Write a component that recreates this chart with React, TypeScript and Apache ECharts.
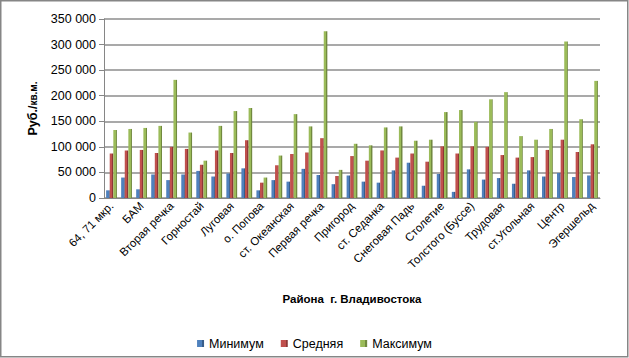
import React, { useEffect, useRef } from "react";
import * as echarts from "echarts";

const categories = [
  "64, 71 мкр.", "Баляева", "БАМ", "Борисенко", "Вторая речка", "Гайдамак",
  "Горностай", "Заря", "Луговая", "Некрасовская", "о. Попова", "о. Русский",
  "ст. Океанская", "Патрокл", "Первая речка", "Постышева", "Пригород", "Садгород",
  "ст. Седанка", "Семеновская", "Снеговая Падь", "Спутник", "Столетие", "Тихая",
  "Толстого (Буссе)", "Третья Рабочая", "Трудовая", "Тухачевского", "ст.Угольная", "Фадеева",
  "Центр", "Чуркин", "Эгершельд",
];

const minimum = [
  15000, 40000, 17000, 46000, 35000, 46000, 53000, 42000, 48000, 58000, 15000, 35000,
  32000, 57000, 45000, 27000, 44000, 32000, 30000, 54000, 69000, 24000, 47000, 12000,
  56000, 36000, 39000, 28000, 54000, 42000, 49000, 41000, 44000,
];

const average = [
  87000, 93000, 94000, 88000, 100000, 96000, 65000, 93000, 88000, 113000, 30000, 64000,
  86000, 89000, 117000, 43000, 82000, 73000, 93000, 79000, 87000, 71000, 101000, 87000,
  101000, 100000, 84000, 79000, 80000, 94000, 114000, 90000, 105000,
];

const maximum = [
  133000, 135000, 137000, 141000, 231000, 128000, 73000, 141000, 170000, 176000, 40000, 83000,
  164000, 140000, 326000, 55000, 106000, 103000, 138000, 140000, 112000, 114000, 168000, 172000,
  149000, 193000, 207000, 121000, 114000, 135000, 306000, 154000, 229000,
];

const seriesNames = ["Минимум", "Средняя", "Максимум"];

const FONT = "Liberation Sans, Arial, sans-serif";

function fmt(v: number) {
  return String(v).replace(/\B(?=(\d{3})+(?!\d))/g, " ");
}

function barColor(base: string, dark: string) {
  return new echarts.graphic.LinearGradient(0, 0, 1, 0, [
    { offset: 0, color: base },
    { offset: 0.68, color: base },
    { offset: 0.7, color: dark },
    { offset: 1, color: dark },
  ]);
}

export default function App() {
  const ref = useRef<HTMLDivElement>(null);
  useEffect(() => {
    document.body.style.margin = "0";
    const chart = echarts.init(ref.current!, null, { renderer: "svg" });
    const colors = [
      ["#4F81BD", "#385D8A"],
      ["#C0504D", "#8C3836"],
      ["#9BBB59", "#71893F"],
    ];
    const datas = [minimum, average, maximum];
    chart.setOption({
      animation: false,
      backgroundColor: "#ffffff",
      color: colors.map((c) => c[0]),
      grid: { left: 104, right: 29, top: 19, bottom: 160, containLabel: false },
      legend: {
        left: "center",
        top: 332,
        icon: "rect",
        itemWidth: 7,
        itemHeight: 7,
        itemGap: 17,
        textStyle: { fontFamily: FONT, fontSize: 12.5, color: "#000" },
        data: seriesNames,
      },
      xAxis: {
        type: "category",
        data: categories,
        name: "Района  г. Владивостока",
        nameLocation: "middle",
        nameGap: 95,
        nameTextStyle: { fontFamily: FONT, fontSize: 11.5, fontWeight: "bold", color: "#000" },
        axisLine: { lineStyle: { color: "#868686", width: 1 } },
        axisTick: { show: false },
        axisLabel: {
          interval: 1,
          rotate: 45,
          fontFamily: FONT,
          fontSize: 11.5,
          color: "#000",
          margin: 6,
        },
      },
      yAxis: {
        type: "value",
        min: 0,
        max: 350000,
        interval: 50000,
        name: "{a|Руб./}{b|кв.м.}",
        nameLocation: "middle",
        nameGap: 62,
        nameRotate: 90,
        nameTextStyle: {
          rich: {
            a: { fontFamily: FONT, fontSize: 12.5, fontWeight: "bold", color: "#000" },
            b: { fontFamily: FONT, fontSize: 10, fontWeight: "bold", color: "#000" },
          },
        },
        axisLine: { show: true, lineStyle: { color: "#868686" } },
        axisTick: { show: true, length: 5, lineStyle: { color: "#868686" } },
        axisLabel: {
          fontFamily: FONT,
          fontSize: 12.5,
          color: "#000",
          margin: 8,
          formatter: (v: number) => fmt(v),
        },
        splitLine: { lineStyle: { color: "#8C8C8C", width: 1.5 } },
      },
      graphic: [
        {
          type: "rect",
          shape: { x: 0.75, y: 0.75, width: 627, height: 356 },
          style: { fill: "none", stroke: "#868686", lineWidth: 1.5 },
          silent: true,
          z: 100,
        },
      ],
      series: seriesNames.map((n, i) => ({
        name: n,
        type: "bar",
        data: datas[i],
        barWidth: 3.6,
        barGap: "0%",
        itemStyle: { color: barColor(colors[i][0], colors[i][1]) },
      })),
    });
    return () => chart.dispose();
  }, []);
  return (
    <div
      ref={ref}
      style={{ position: "absolute", left: 0, top: 0, width: 629, height: 358 }}
    />
  );
}
